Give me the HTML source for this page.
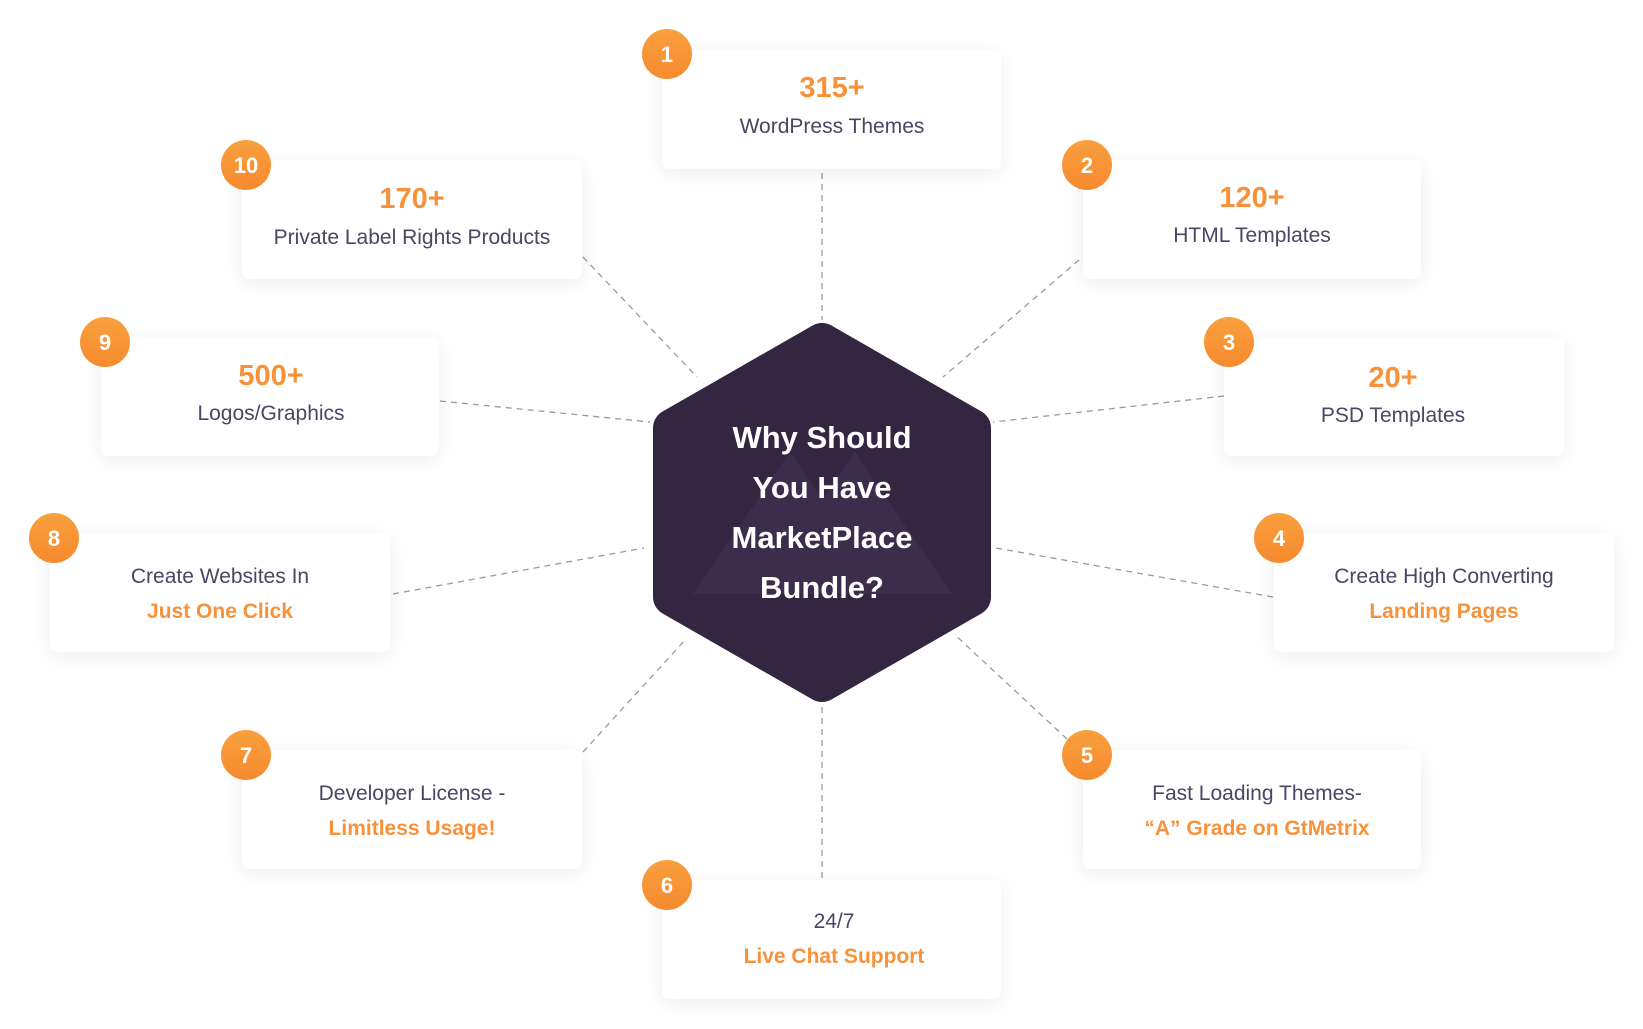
<!DOCTYPE html>
<html><head><meta charset="utf-8"><style>
html,body{margin:0;padding:0;background:#fff;}
svg{display:block}
text{font-family:"Liberation Sans",sans-serif;text-anchor:middle}
.n{font-size:29px;font-weight:bold;fill:#f7923a}
.l{font-size:21px;fill:#474766}
.o{font-size:21px;font-weight:bold;fill:#f7923a}
.c{font-size:31px;font-weight:bold;fill:#fff}
</style></head><body>
<svg width="1643" height="1029" viewBox="0 0 1643 1029" xmlns="http://www.w3.org/2000/svg">
<defs>
<filter id="sh" x="-20%" y="-30%" width="140%" height="160%"><feDropShadow dx="0" dy="4" stdDeviation="10" flood-color="#000" flood-opacity="0.07"/></filter>
<linearGradient id="og" x1="0" y1="0" x2="0" y2="1"><stop offset="0" stop-color="#f9a03d"/><stop offset="1" stop-color="#f68a2f"/></linearGradient>
</defs>
<g stroke="#9a9a9a" stroke-width="1.3" stroke-dasharray="6,5">
<line x1="822" y1="173" x2="822" y2="320"/>
<line x1="583" y1="257" x2="697" y2="377"/>
<line x1="1079" y1="260" x2="943" y2="377"/>
<line x1="440" y1="401" x2="650" y2="422"/>
<line x1="1224" y1="396" x2="993" y2="422"/>
<line x1="393" y1="594" x2="644" y2="548"/>
<line x1="1273" y1="597" x2="996" y2="548"/>
<line x1="583" y1="752" x2="686" y2="639"/>
<line x1="1067" y1="739" x2="954" y2="634"/>
<line x1="822" y1="707" x2="822" y2="878"/>
</g>
<path d="M822 342 L972 428 L972 597 L822 683 L672 597 L672 428 Z" fill="#342641" stroke="#342641" stroke-width="38" stroke-linejoin="round"/>
<path d="M790 452 L693 594 L887 594 Z M855 452 L758 594 L952 594 Z" fill="#3b2d4b"/>
<text class="c" x="822" y="448">Why Should</text>
<text class="c" x="822" y="498">You Have</text>
<text class="c" x="822" y="548">MarketPlace</text>
<text class="c" x="822" y="598">Bundle?</text>
<g fill="#fff" filter="url(#sh)">
<rect x="662" y="50" width="339" height="119" rx="8"/>
<rect x="242" y="160" width="340" height="119" rx="8"/>
<rect x="1083" y="160" width="338" height="119" rx="8"/>
<rect x="101" y="337" width="338" height="119" rx="8"/>
<rect x="1224" y="337" width="340" height="119" rx="8"/>
<rect x="50" y="533" width="340" height="119" rx="8"/>
<rect x="1274" y="533" width="340" height="119" rx="8"/>
<rect x="242" y="750" width="340" height="119" rx="8"/>
<rect x="1083" y="750" width="338" height="119" rx="8"/>
<rect x="662" y="880" width="339" height="119" rx="8"/>
</g>
<g fill="url(#og)">
<circle cx="667" cy="54" r="25"/><circle cx="246" cy="165" r="25"/><circle cx="1087" cy="165" r="25"/>
<circle cx="105" cy="342" r="25"/><circle cx="1229" cy="342" r="25"/><circle cx="54" cy="538" r="25"/>
<circle cx="1279" cy="538" r="25"/><circle cx="246" cy="755" r="25"/><circle cx="1087" cy="755" r="25"/>
<circle cx="667" cy="885" r="25"/>
</g>
<g style="font-size:22px;font-weight:bold;fill:#fff">
<text x="667" y="62">1</text><text x="246" y="173">10</text><text x="1087" y="173">2</text>
<text x="105" y="350">9</text><text x="1229" y="350">3</text><text x="54" y="546">8</text>
<text x="1279" y="546">4</text><text x="246" y="763">7</text><text x="1087" y="763">5</text>
<text x="667" y="893">6</text>
</g>
<text class="n" x="832" y="97">315+</text><text class="l" x="832" y="133">WordPress Themes</text>
<text class="n" x="412" y="208">170+</text><text class="l" x="412" y="244">Private Label Rights Products</text>
<text class="n" x="1252" y="207">120+</text><text class="l" x="1252" y="242">HTML Templates</text>
<text class="n" x="271" y="385">500+</text><text class="l" x="271" y="420">Logos/Graphics</text>
<text class="n" x="1393" y="387">20+</text><text class="l" x="1393" y="422">PSD Templates</text>
<text class="l" x="220" y="583">Create Websites In</text><text class="o" x="220" y="618">Just One Click</text>
<text class="l" x="1444" y="583">Create High Converting</text><text class="o" x="1444" y="618">Landing Pages</text>
<text class="l" x="412" y="800">Developer License -</text><text class="o" x="412" y="835">Limitless Usage!</text>
<text class="l" x="1257" y="800">Fast Loading Themes-</text><text class="o" x="1257" y="835">“A” Grade on GtMetrix</text>
<text class="l" x="834" y="928">24/7</text><text class="o" x="834" y="963">Live Chat Support</text>
</svg>
</body></html>
